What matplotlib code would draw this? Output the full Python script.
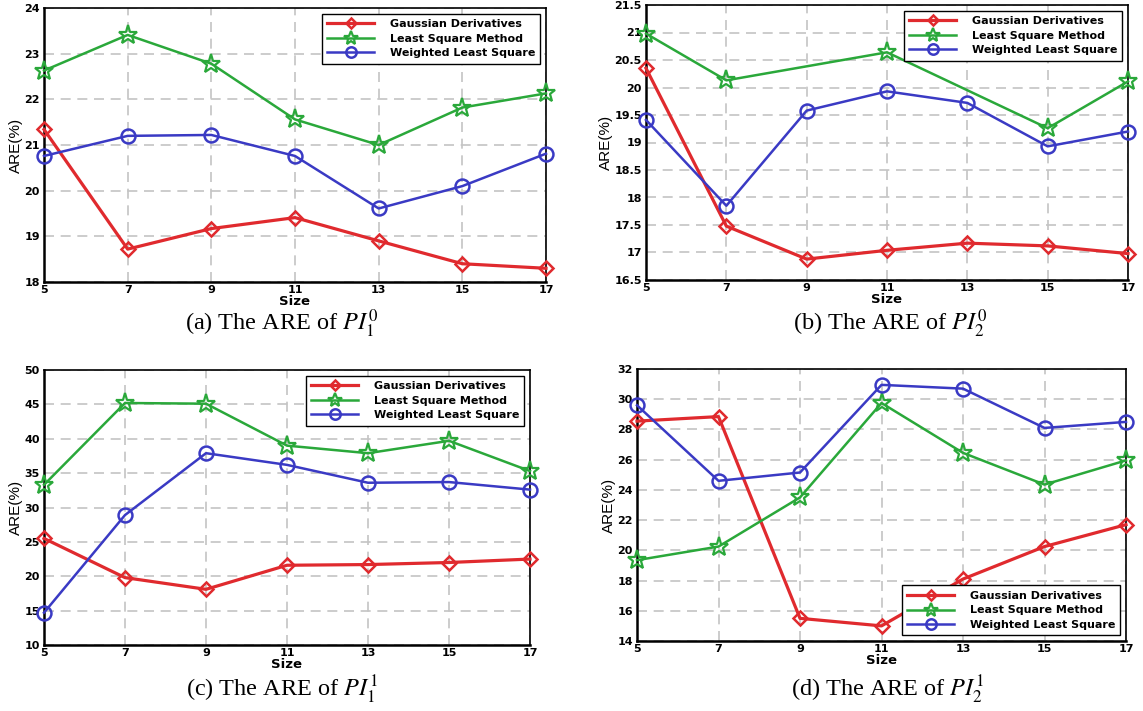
import matplotlib
matplotlib.use("Agg")
import matplotlib.pyplot as plt
import numpy as np

plt.rcParams['mathtext.fontset'] = 'stix'

sizes = [5, 7, 9, 11, 13, 15, 17]
series_names = ["Gaussian Derivatives", "Least Square Method", "Weighted Least Square"]

# (a) PI_1^0
gd_a = [21.34, 18.72, 19.17, 19.41, 18.9, 18.4, 18.3]
lsm_a = [22.63, 23.41, 22.78, 21.56, 21.0, 21.82, 22.13]
wls_a = [20.76, 21.2, 21.22, 20.76, 19.61, 20.1, 20.81]

# (b) PI_2^0  (LSM has markers only at some sizes)
gd_b = [20.35, 17.48, 16.88, 17.04, 17.17, 17.12, 16.98]
lsm_b_x = [5, 7, 11, 15, 17]
lsm_b = [20.98, 20.13, 20.64, 19.26, 20.11]
wls_b = [19.41, 17.85, 19.58, 19.93, 19.72, 18.93, 19.2]

# (c) PI_1^1
gd_c = [25.5, 19.8, 18.1, 21.6, 21.7, 22.0, 22.5]
lsm_c = [33.3, 45.2, 45.1, 39.0, 37.9, 39.7, 35.3]
wls_c = [14.7, 28.9, 37.9, 36.2, 33.6, 33.7, 32.6]

# (d) PI_2^1
gd_d = [28.55, 28.85, 15.5, 15.0, 18.1, 20.25, 21.7]
lsm_d = [19.35, 20.25, 23.5, 29.75, 26.45, 24.35, 25.95]
wls_d = [29.6, 24.6, 25.15, 30.95, 30.7, 28.1, 28.5]

captions = ["(a) The ARE of $PI_1^0$", "(b) The ARE of $PI_2^0$",
            "(c) The ARE of $PI_1^1$", "(d) The ARE of $PI_2^1$"]
y_ticks = [np.arange(18, 24.01, 1), np.arange(16.5, 21.51, 0.5),
           np.arange(10, 50.01, 5), np.arange(14, 32.01, 2)]
y_ticklabels = [["18", "19", "20", "21", "22", "23", "24"],
                ["16.5", "17", "17.5", "18", "18.5", "19", "19.5", "20", "20.5", "21", "21.5"],
                ["10", "15", "20", "25", "30", "35", "40", "45", "50"],
                ["14", "16", "18", "20", "22", "24", "26", "28", "30", "32"]]

W, H = 1143, 711
fig = plt.figure(figsize=(W / 100, H / 100), dpi=100)

def fr(l, r, t, b):
    return [l / W, 1 - b / H, (r - l) / W, (b - t) / H]

axes_px = [(44, 546, 8, 282), (646, 1128, 5, 280), (44, 530, 370, 645), (637, 1126, 369, 641)]
cap_pos = [(282, 324), (890, 324), (282, 690), (888, 690)]
legend_loc = ["upper right", "upper right", "upper right", "lower right"]

red = "#e02a2e"
green = "#2aa83a"
blue = "#3a3ac4"

data = [
    ((sizes, gd_a), (sizes, lsm_a), (sizes, wls_a)),
    ((sizes, gd_b), (lsm_b_x, lsm_b), (sizes, wls_b)),
    ((sizes, gd_c), (sizes, lsm_c), (sizes, wls_c)),
    ((sizes, gd_d), (sizes, lsm_d), (sizes, wls_d)),
]

for i in range(4):
    ax = fig.add_axes(fr(*axes_px[i]))
    (gx, gy), (lx, ly), (wx, wy) = data[i]
    ax.plot(gx, gy, color=red, lw=2.3, marker='D', ms=7, mfc='none', mec=red, mew=1.8,
            label=series_names[0], clip_on=False, zorder=3)
    ax.plot(lx, ly, color=green, lw=1.8, marker='*', ms=14, mfc='none', mec=green, mew=1.6,
            label=series_names[1], clip_on=False, zorder=3)
    ax.plot(wx, wy, color=blue, lw=1.8, marker='o', ms=10, mfc='none', mec=blue, mew=1.8,
            label=series_names[2], clip_on=False, zorder=3)
    yt = y_ticks[i]
    ax.set_xlim(5, 17)
    ax.set_ylim(yt[0], yt[-1])
    ax.set_xticks(sizes)
    ax.set_xticklabels([str(s) for s in sizes], fontweight='bold', fontsize=8)
    ax.set_yticks(yt)
    ax.set_yticklabels(y_ticklabels[i], fontweight='bold', fontsize=8)
    ax.tick_params(axis='y', length=0, pad=3)
    ax.tick_params(axis='x', length=0, pad=2)
    ax.grid(True, color='#c4c4c4', ls=(0, (6, 4)), lw=1.2)
    ax.set_axisbelow(True)
    for s in ax.spines.values():
        s.set_color('black')
        s.set_linewidth(1.2)
    ax.spines['left'].set_linewidth(1.8)
    ax.spines['bottom'].set_linewidth(1.8)
    ax.set_xlabel("Size", fontweight='bold', fontsize=9.5, labelpad=0)
    ax.set_ylabel("ARE(%)", fontsize=11, family=['Liberation Sans Narrow', 'Liberation Sans'],
                  labelpad=1)
    leg = ax.legend(loc=legend_loc[i], prop={'weight': 'bold', 'size': 8},
                    fancybox=False, edgecolor='black', framealpha=1,
                    handlelength=4.2, borderaxespad=0.5, labelspacing=0.4,
                    borderpad=0.5, handletextpad=1.4)
    leg.get_frame().set_linewidth(1.0)
    for h in leg.get_lines():
        h.set_markersize(h.get_markersize() * 0.75)
    cx, cy = cap_pos[i]
    fig.text(cx / W, 1 - cy / H, captions[i], ha='center', va='center',
             family='Liberation Serif', fontsize=17.5)

fig.savefig("out.png", dpi=100)
